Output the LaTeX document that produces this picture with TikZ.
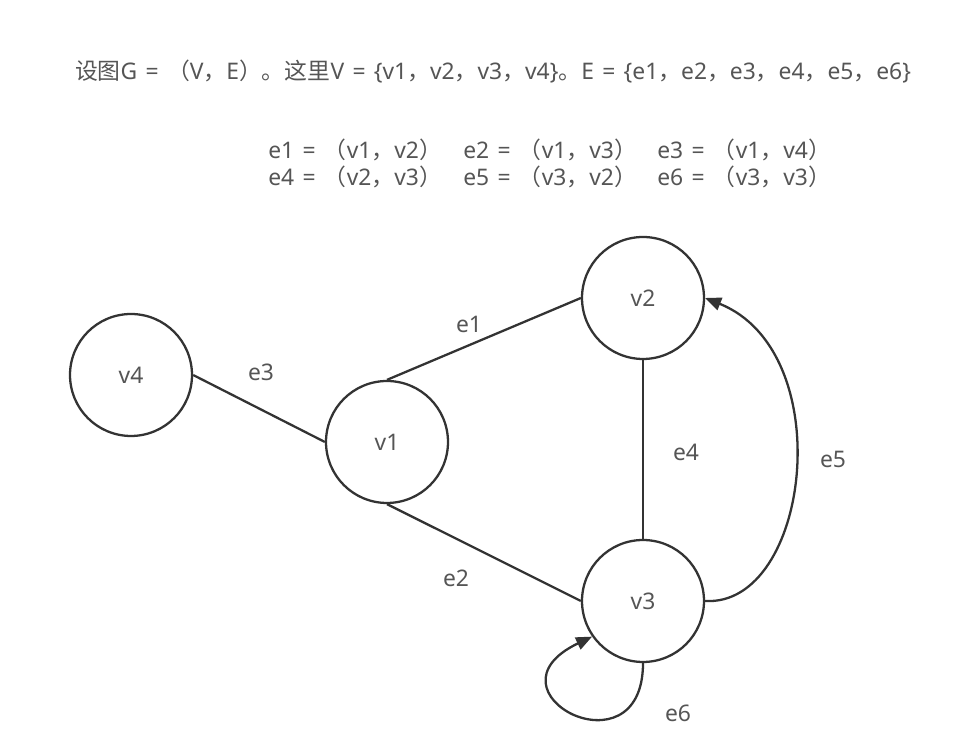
\documentclass[tikz,border=0pt]{standalone}
\usepackage{fontspec}
\setmainfont{Noto Sans}[WordSpace=1.4]
\newfontfamily\cjk{Noto Sans CJK SC}
\usetikzlibrary{arrows.meta}

\definecolor{linegray}{HTML}{333333}
\definecolor{textgray}{HTML}{555555}

\newcommand{\zlp}{{\cjk （}}
\newcommand{\zrp}{{\cjk ）}}
\newcommand{\zcm}{{\cjk ，}}

\tikzset{
    vertex/.style={circle, draw=linegray, line width=1.3pt, minimum size=2.44cm, inner sep=0pt, text=textgray},
    edge/.style={draw=linegray, line width=1.3pt},
    elabel/.style={text=textgray, inner sep=0pt},
    arc/.style={edge, -{Triangle[length=0.32cm, width=0.26cm]}}
}

\begin{document}
\begin{tikzpicture}[x=0.02cm, y=0.02cm, font=\fontsize{13}{15}\selectfont]

    \useasboundingbox (0,0) rectangle (971,742);

    \node[elabel] (title) at (493,670) {{\cjk 设图}G = \zlp V\zcm E\zrp{\cjk 。这里}V = \{v1\zcm v2\zcm v3\zcm v4\}{\cjk 。}E = \{e1\zcm e2\zcm e3\zcm e4\zcm e5\zcm e6\}};

    \node[elabel, anchor=west] (d1) at (268,592) {e1 = \zlp v1\zcm v2\zrp};
    \node[elabel, anchor=west] (d2) at (463,592) {e2 = \zlp v1\zcm v3\zrp};
    \node[elabel, anchor=west] (d3) at (657,592) {e3 = \zlp v1\zcm v4\zrp};
    \node[elabel, anchor=west] (d4) at (268,565) {e4 = \zlp v2\zcm v3\zrp};
    \node[elabel, anchor=west] (d5) at (463,565) {e5 = \zlp v3\zcm v2\zrp};
    \node[elabel, anchor=west] (d6) at (657,565) {e6 = \zlp v3\zcm v3\zrp};

    \node[vertex] (v4) at (131,367) {v4};
    \node[vertex] (v1) at (387,300) {v1};
    \node[vertex] (v2) at (643,444) {v2};
    \node[vertex] (v3) at (643,141) {v3};

    \draw[edge] (v4.east) -- (v1.west);
    \draw[edge] (v1.north) -- (v2.west);
    \draw[edge] (v1.south) -- (v3.west);
    \draw[edge] (v2.south) -- (v3.north);
    \draw[arc] (v3.east) .. controls (810,135) and (840,390) .. (v2.east);
    \draw[arc] (v3.south) .. controls +(0,-115) and +(-115,-55) .. (v3.215);

    \node[elabel] (l1) at (469,418) {e1};
    \node[elabel] (l2) at (456,164) {e2};
    \node[elabel] (l3) at (261,370) {e3};
    \node[elabel] (l4) at (686,290) {e4};
    \node[elabel] (l5) at (833,283) {e5};
    \node[elabel] (l6) at (678,29) {e6};

\end{tikzpicture}
\end{document}
